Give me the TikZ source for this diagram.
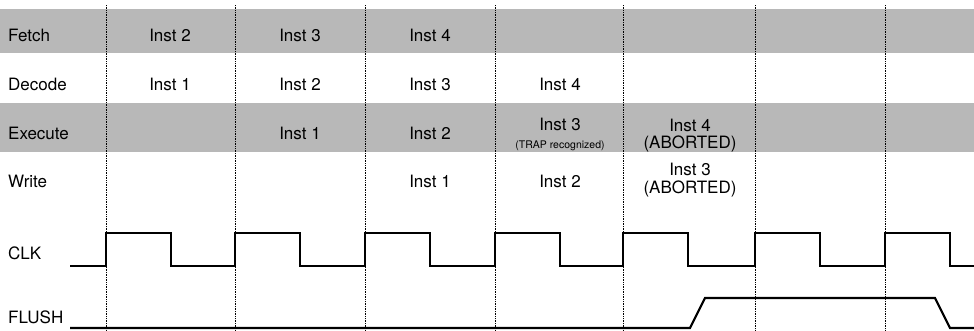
\documentclass[tikz,border=0pt]{standalone}
\usepackage{fontspec}
\setmainfont{TeX Gyre Heros}
\tikzset{
  band/.style={fill=black!28},
  tick/.style={densely dotted, line width=0.7pt},
  wave/.style={line width=2.2pt, line join=miter},
  lbl/.style={anchor=base west, inner sep=0pt},
  inst/.style={anchor=base, inner sep=0pt},
}
\begin{document}
\begin{tikzpicture}[x=1pt,y=-1pt,font=\fontsize{17}{19}\selectfont]
    \useasboundingbox (0,0) rectangle (974,330);
    % stage bands
    \fill[band] (0,9) rectangle (974,53);
    \fill[band] (0,103) rectangle (974,152);
    % clock edges
    \foreach \x in {106,235,365,495,623,755,885}
      \draw[tick] (\x,5) -- (\x,330);

    % row labels
    \node[lbl] (fetch) at (8,41) {Fetch};
    \node[lbl] (decode) at (8,90) {Decode};
    \node[lbl] (execute) at (8,139) {Execute};
    \node[lbl] (write) at (8,187) {Write};
    \node[lbl] (clk) at (8,259) {CLK};
    \node[lbl] (flush) at (8,323) {FLUSH};

    % fetch
    \node[inst] (f2) at (170,41) {Inst 2};
    \node[inst] (f3) at (300,41) {Inst 3};
    \node[inst] (f4) at (430,41) {Inst 4};
    % decode
    \node[inst] (d1) at (170,90) {Inst 1};
    \node[inst] (d2) at (300,90) {Inst 2};
    \node[inst] (d3) at (430,90) {Inst 3};
    \node[inst] (d4) at (560,90) {Inst 4};
    % execute
    \node[inst] (e1) at (300,139) {Inst 1};
    \node[inst] (e2) at (430,139) {Inst 2};
    \node[inst] (e3) at (560,130) {Inst 3};
    \node[inst, font=\fontsize{10.5}{12}\selectfont] (e3trap) at (560,148) {(TRAP recognized)};
    \node[inst] (e4) at (690,131) {Inst 4};
    \node[inst] (e4ab) at (690,148) {(ABORTED)};
    % write
    \node[inst] (w1) at (430,187) {Inst 1};
    \node[inst] (w2) at (560,187) {Inst 2};
    \node[inst] (w3) at (690,175) {Inst 3};
    \node[inst] (w3ab) at (690,193) {(ABORTED)};

    % CLK
    \draw[wave] (70,266)
      \foreach \x in {106,235,365,495,623,755,885} {
        -- (\x,266) -- (\x,233) -- ({\x+65},233) -- ({\x+65},266)
      } -- (974,266);
    % FLUSH
    \draw[wave] (70,328) -- (690,328) -- (705,298) -- (935,298)
      -- (950,328) -- (974,328);
%    \draw[wave] (70,328) -- (974,328);
\end{tikzpicture}
\end{document}
